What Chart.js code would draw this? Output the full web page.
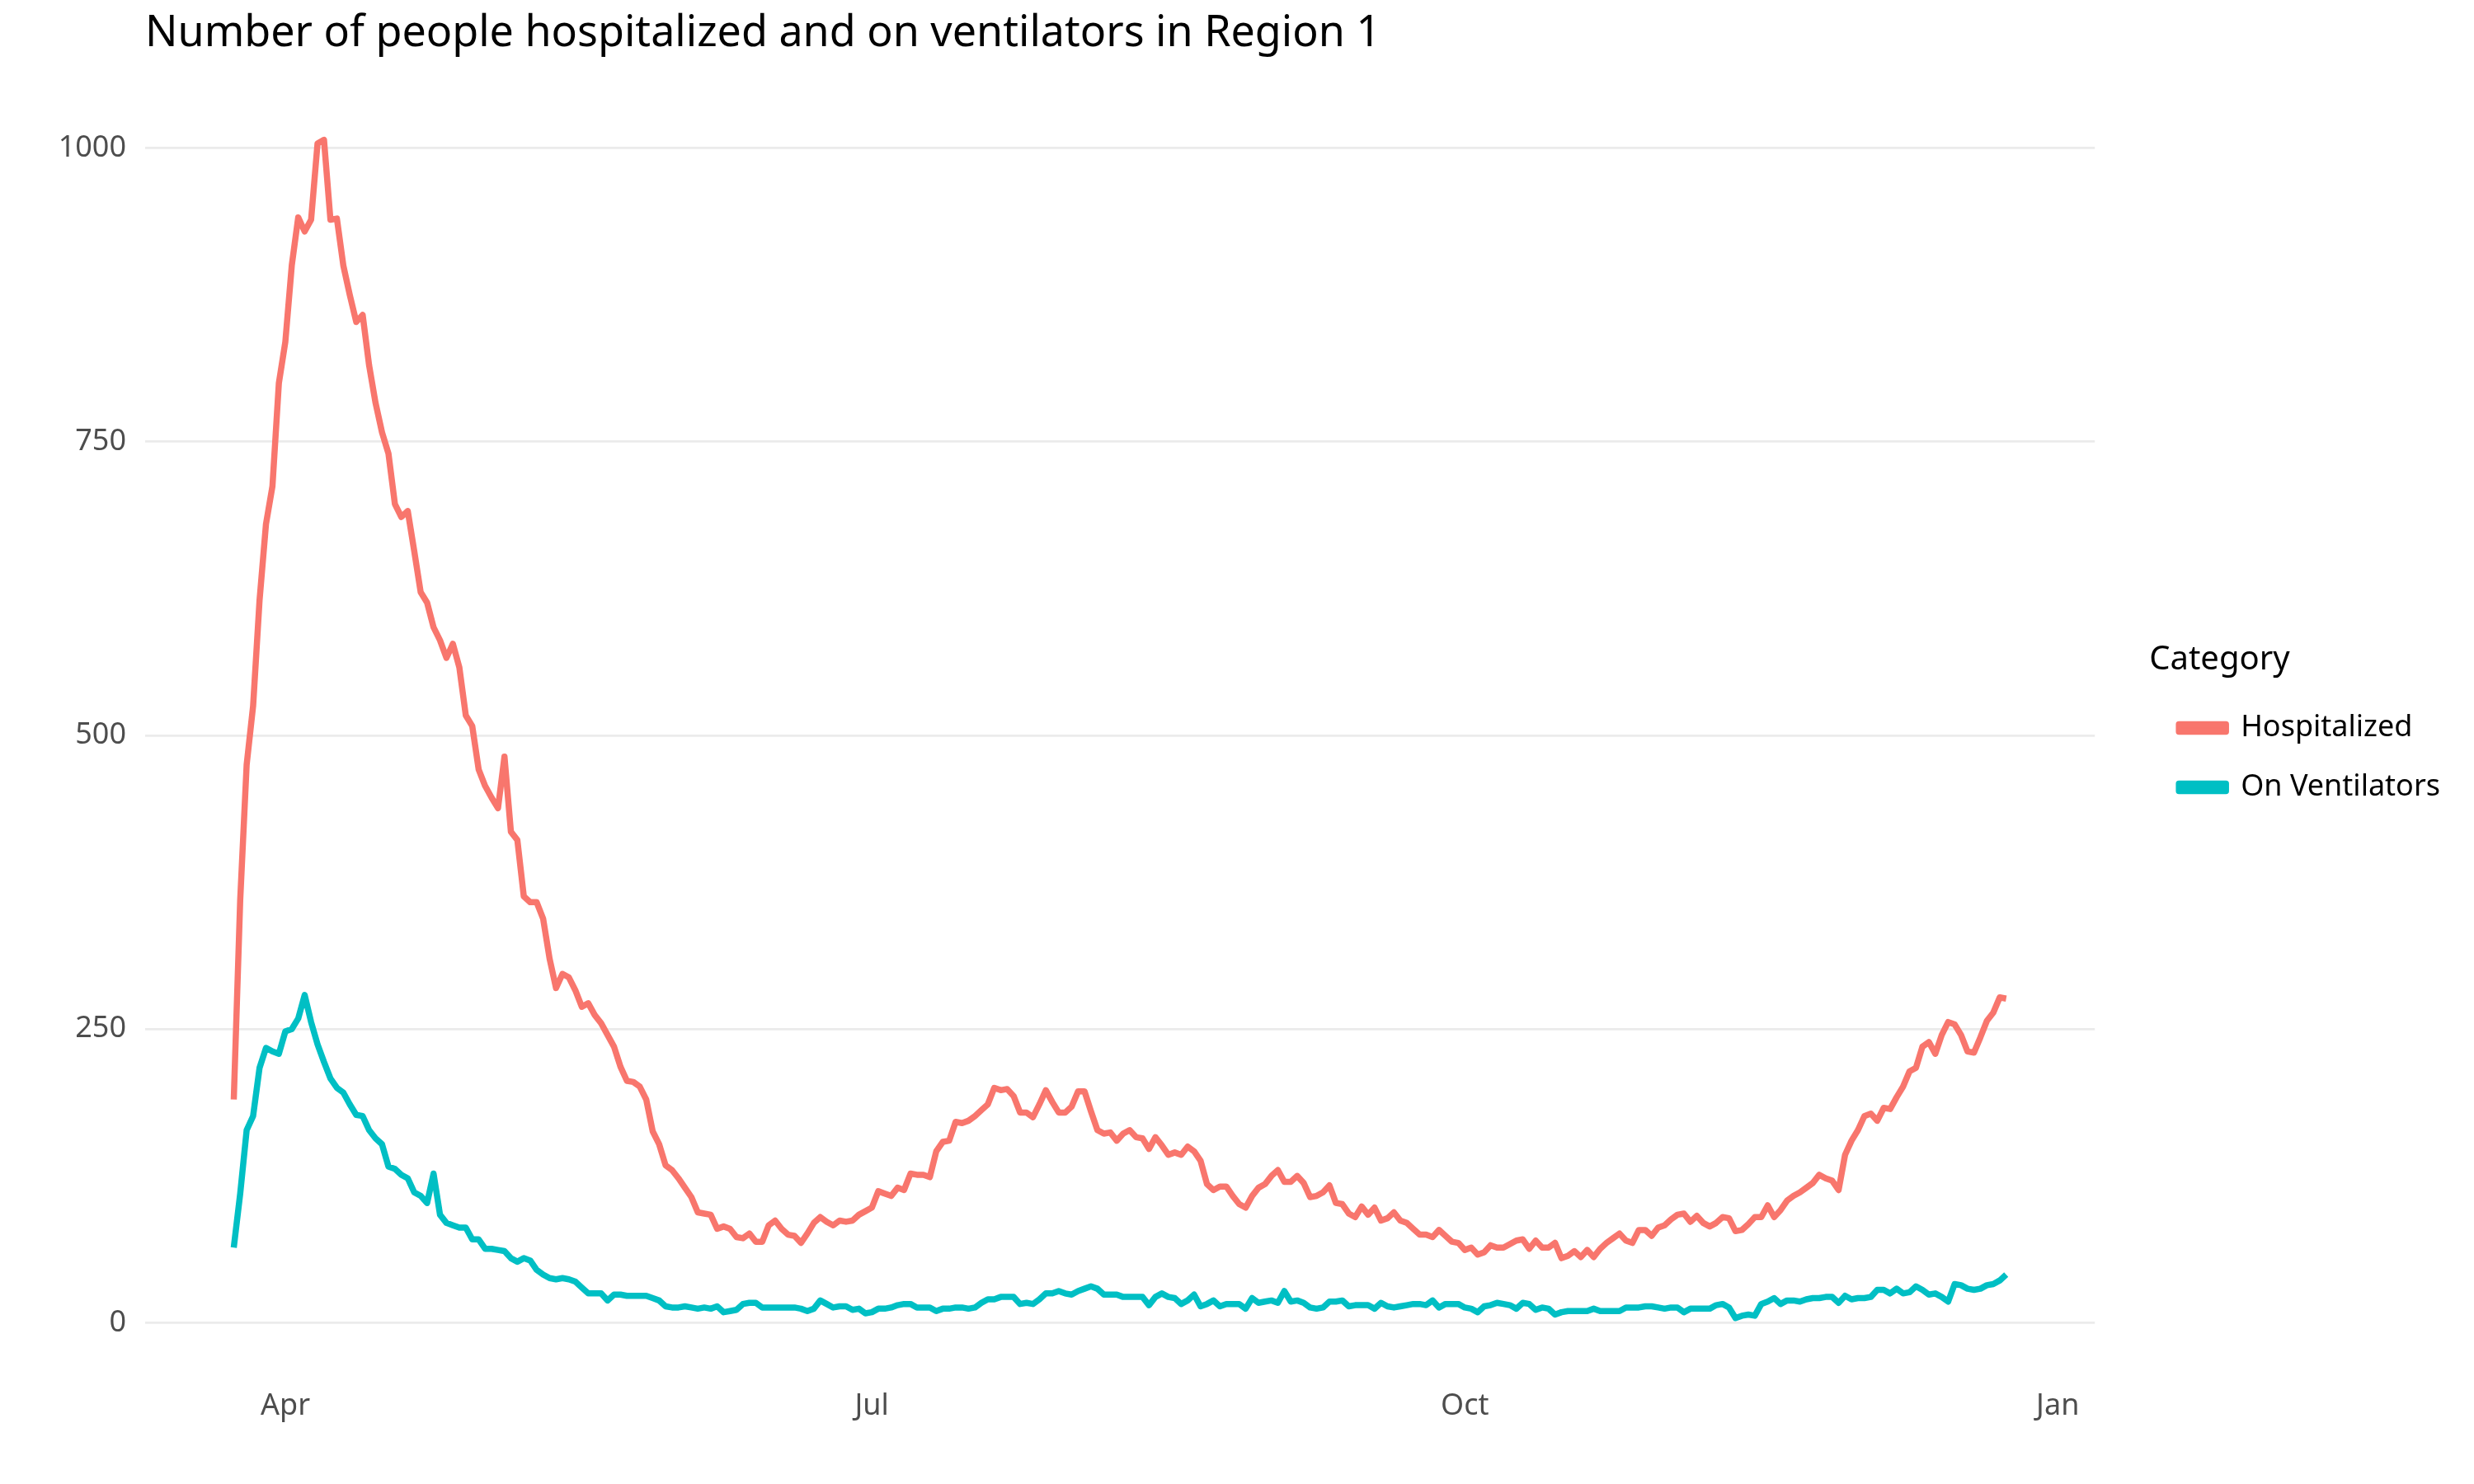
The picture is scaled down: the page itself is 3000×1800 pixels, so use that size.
<!DOCTYPE html>
<html>
<head>
<meta charset="utf-8">
<title>Region 1 hospitalizations</title>
<script src="https://cdn.jsdelivr.net/npm/chart.js@4.4.1/dist/chart.umd.min.js"></script>
<style>
  html, body { margin: 0; padding: 0; background: #ffffff; }
  #wrap { width: 3000px; height: 1800px; }
</style>
</head>
<body>
<div id="wrap"><canvas id="mycanvas" width="3000" height="1800"></canvas></div>
<script>
// daily values, day 0 = 24 Mar 2020, last day = 24 Dec 2020
var hospitalized = [
  190, 360, 475, 525, 615, 680, 712, 800, 835, 900,
  941, 929, 939, 1004, 1007, 939, 940, 900, 875, 852,
  858, 815, 783, 758, 740, 697, 686, 691, 657, 622,
  613, 592, 581, 566, 578, 558, 517, 508, 471, 457,
  447, 438, 482, 418, 411, 363, 358, 358, 344, 310,
  285, 297, 294, 283, 269, 272, 262, 255, 245, 235,
  218, 206, 205, 201, 190, 163, 152, 134, 130, 123,
  115, 107, 94, 93, 92, 80, 82, 80, 73, 72,
  76, 69, 69, 83, 87, 80, 75, 74, 68, 76,
  85, 90, 86, 83, 87, 86, 87, 92, 95, 98,
  112, 110, 108, 115, 113, 127, 126, 126, 124, 146,
  154, 155, 171, 170, 172, 176, 181, 186, 200, 198,
  199, 193, 179, 179, 175, 186, 198, 188, 179, 179,
  184, 197, 197, 180, 164, 161, 162, 155, 161, 164,
  158, 157, 148, 158, 151, 143, 145, 143, 150, 146,
  138, 118, 113, 116, 116, 108, 101, 98, 108, 115,
  118, 125, 130, 120, 120, 125, 119, 107, 108, 111,
  117, 102, 101, 93, 90, 99, 92, 98, 87, 89,
  94, 87, 85, 80, 75, 75, 73, 79, 74, 69,
  68, 62, 64, 58, 60, 66, 64, 64, 67, 70,
  71, 63, 70, 64, 64, 68, 55, 57, 61, 56,
  62, 56, 63,
  68, 72, 76, 70, 68, 79, 79, 74, 81, 83,
  88, 92, 93, 86, 91, 85, 82, 85, 90, 89,
  78, 79, 84, 90, 90, 100, 90, 96, 104, 108,
  111, 115, 119, 126, 123, 121, 113, 143, 155, 164,
  176, 178, 172, 183, 182, 192, 201, 214, 217, 235,
  239, 229, 245, 256, 254, 245, 231, 230, 243, 257,
  264, 277, 276
];
var onVentilators = [
  64, 110, 164, 176, 217, 234, 231, 229, 248, 250,
  259, 279, 256, 237, 222, 208, 200, 196, 186, 177,
  176, 164, 157, 152, 133, 131, 126, 123, 111, 108,
  102, 127, 92, 85, 83, 81, 81, 71, 71, 63,
  63, 62, 61, 55, 52, 55, 53, 45, 41, 38,
  37, 38, 37, 35, 30, 25, 25, 25, 19, 24,
  24, 23, 23, 23, 23, 21, 19, 14, 13, 13,
  14, 13, 12, 13, 12, 14, 9, 10, 11, 16,
  17, 17, 13, 13, 13, 13, 13, 13, 12, 10,
  12, 19, 16, 13, 14, 14, 11, 12, 8, 9,
  12, 12, 13, 15, 16, 16, 13, 13, 13, 10,
  12, 12, 13, 13, 12, 13, 17, 20, 20, 22,
  22, 22, 16, 17, 16, 20, 25, 25, 27, 25,
  24, 27, 29, 31, 29, 24, 24, 24, 22, 22,
  22, 22, 15, 22, 25, 22, 21, 16, 19, 24,
  14, 16, 19, 14, 16, 16, 16, 12, 21, 17,
  18, 19, 17, 27, 18, 19, 17, 13, 12, 13,
  18, 18, 19, 14, 15, 15, 15, 12, 17, 14,
  13, 14, 15, 16, 16, 15, 19, 13, 16, 16,
  16, 13, 12, 9, 14, 15, 17, 16, 15, 12,
  17, 16, 11, 13, 12, 7, 9, 10, 10, 10,
  10, 12, 10,
  10, 10, 10, 13, 13, 13, 14, 14, 13, 12,
  13, 13, 9, 12, 12, 12, 12, 15, 16, 13,
  4, 6, 7, 6, 16, 18, 21, 16, 19, 19,
  18, 20, 21, 21, 22, 22, 17, 23, 20, 21,
  21, 22, 28, 28, 25, 29, 25, 26, 31, 28,
  24, 25, 22, 18, 33, 32, 29, 28, 29, 32,
  33, 36, 41
];
var seriesNames = ['Hospitalized', 'On Ventilators'];
var seriesColors = ['#F8766D', '#00BFC4'];
var xTickDays = [8, 99, 191, 283];          // 1 Apr, 1 Jul, 1 Oct, 1 Jan
var xTickLabels = ['Apr', 'Jul', 'Oct', 'Jan'];
var yTicks = [0, 250, 500, 750, 1000];

var fontFamily = "'Noto Sans', 'Open Sans', sans-serif";

function toPoints(values) {
  var pts = [];
  for (var i = 0; i < values.length; i++) {
    pts.push({ x: i, y: values[i] });
  }
  return pts;
}

function lineSet(i, values) {
  return {
    label: seriesNames[i],
    data: toPoints(values),
    borderColor: seriesColors[i],
    backgroundColor: seriesColors[i],
    borderWidth: 7.5,
    borderJoinStyle: 'round',
    pointRadius: 0,
    tension: 0,
    fill: false
  };
}

var chartdata = {
  datasets: [lineSet(0, hospitalized), lineSet(1, onVentilators)]
};

// ggplot style 5% padding on each side of the data range
var lastDay = hospitalized.length - 1;
var xPad = lastDay * 0.05;

var ctx = document.getElementById('mycanvas');

var lineGraph = new Chart(ctx, {
  type: 'line',
  data: chartdata,
  options: {
    responsive: false,
    animation: false,
    devicePixelRatio: 1,
    layout: { padding: { top: 0, right: 31, bottom: 20, left: 0 } },
    plugins: {
      title: {
        display: true,
        text: 'Number of people hospitalized and on ventilators in Region 1',
        align: 'start',
        fullSize: false,
        color: '#000000',
        font: { family: fontFamily, size: 52, weight: 'normal' },
        padding: { top: 10, bottom: 26 }
      },
      legend: {
        position: 'right',
        align: 'center',
        title: {
          display: true,
          text: 'Category',
          position: 'start',
          color: '#000000',
          font: { family: fontFamily, size: 40 },
          padding: { top: 10, bottom: 0 }
        },
        labels: {
          boxWidth: 57,
          boxHeight: 9,
          padding: 36,
          color: '#000000',
          font: { family: fontFamily, size: 36 }
        }
      },
      tooltip: { enabled: false }
    },
    scales: {
      x: {
        type: 'linear',
        min: -xPad,
        max: lastDay + xPad,
        grid: { display: false, drawTicks: false },
        border: { display: false },
        afterBuildTicks: function(scale) {
          scale.ticks = xTickDays.map(function(v) { return { value: v }; });
        },
        ticks: {
          autoSkip: false,
          maxRotation: 0,
          padding: 14,
          color: '#4D4D4D',
          font: { family: fontFamily, size: 36 },
          callback: function(value) {
            return xTickLabels[xTickDays.indexOf(value)];
          }
        },
        afterFit: function(scale) { scale.height = 110; }
      },
      y: {
        min: -46,
        max: 1057,
        grid: { color: '#EBEBEB', lineWidth: 2.7, drawTicks: false },
        border: { display: false },
        afterBuildTicks: function(scale) {
          scale.ticks = yTicks.map(function(v) { return { value: v }; });
        },
        ticks: {
          padding: 23,
          color: '#4D4D4D',
          font: { family: fontFamily, size: 36 },
          callback: function(value) { return String(value); }
        },
        afterFit: function(scale) { scale.width = 176; }
      },
      gap: {
        position: 'right',
        display: true,
        grid: { display: false, drawTicks: false },
        border: { display: false },
        ticks: { display: false },
        afterFit: function(scale) { scale.width = 66; }
      }
    }
  }
});
</script>
</body>
</html>
